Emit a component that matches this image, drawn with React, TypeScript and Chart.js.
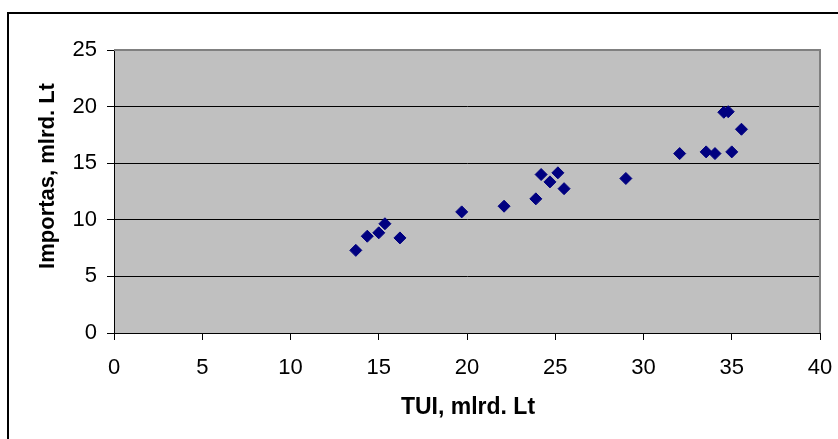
import React, { useEffect, useRef } from "react";
import { Chart, registerables } from "chart.js";

Chart.register(...registerables);

const tuiValues = [13.7, 14.35, 15.0, 15.35, 16.2, 19.7, 22.1, 23.9, 24.2, 24.7, 25.15, 25.5, 29.0, 32.05, 33.55, 34.05, 35.0, 34.55, 34.8, 35.55];
const importValues = [7.3, 8.55, 8.85, 9.65, 8.4, 10.7, 11.2, 11.85, 14.0, 13.35, 14.15, 12.75, 13.65, 15.85, 16.0, 15.85, 16.0, 19.5, 19.55, 18.0];
const xTicks = [0, 5, 10, 15, 20, 25, 30, 35, 40];
const yTicks = [0, 5, 10, 15, 20, 25];
const xTitle = "TUI, mlrd. Lt";
const yTitle = "Importas, mlrd. Lt";

const FONT = "'Liberation Sans', Arial, sans-serif";

export default function App() {
  const ref = useRef<HTMLCanvasElement | null>(null);

  useEffect(() => {
    const canvas = ref.current;
    if (!canvas) return;

    const decor = {
      id: "decor",
      beforeDraw(chart: any) {
        const { ctx, chartArea } = chart;
        ctx.save();
        ctx.fillStyle = "#ffffff";
        ctx.fillRect(0, 0, chart.width, chart.height);
        ctx.strokeStyle = "#000000";
        ctx.lineWidth = 2;
        ctx.beginPath();
        ctx.moveTo(8, 445);
        ctx.lineTo(8, 13);
        ctx.lineTo(845, 13);
        ctx.stroke();
        ctx.fillStyle = "#c0c0c0";
        ctx.fillRect(chartArea.left, chartArea.top, chartArea.right - chartArea.left, chartArea.bottom - chartArea.top);
        ctx.restore();
      },
      beforeDatasetsDraw(chart: any) {
        const { ctx, chartArea } = chart;
        ctx.save();
        ctx.strokeStyle = "#808080";
        ctx.lineWidth = 2;
        ctx.beginPath();
        ctx.moveTo(chartArea.left, chartArea.top);
        ctx.lineTo(chartArea.right, chartArea.top);
        ctx.lineTo(chartArea.right, chartArea.bottom);
        ctx.stroke();
        ctx.restore();
      },
      afterDraw(chart: any) {
        const { ctx } = chart;
        ctx.save();
        ctx.fillStyle = "#000000";
        ctx.textAlign = "center";
        ctx.textBaseline = "alphabetic";
        ctx.font = `bold 23px ${FONT}`;
        ctx.fillText(xTitle, 468, 414);
        ctx.font = `bold 22px ${FONT}`;
        ctx.translate(54, 176);
        ctx.rotate(-Math.PI / 2);
        ctx.fillText(yTitle, 0, 0);
        ctx.restore();
      },
    };

    const chart = new Chart(canvas, {
      type: "scatter",
      data: {
        datasets: [
          {
            data: tuiValues.map((x, i) => ({ x, y: importValues[i] })),
            pointStyle: "rectRot",
            pointRadius: 6,
            pointHoverRadius: 6,
            backgroundColor: "#000080",
            borderColor: "#000080",
            borderWidth: 1,
          },
        ],
      },
      options: {
        responsive: false,
        animation: false,
        events: [],
        layout: { padding: { left: 0, top: 50, right: 18, bottom: 0 } },
        plugins: { legend: { display: false }, tooltip: { enabled: false } },
        scales: {
          x: {
            type: "linear",
            min: 0,
            max: 40,
            afterBuildTicks(scale: any) {
              scale.ticks = xTicks.map((v) => ({ value: v }));
            },
            afterFit(scale: any) {
              scale.height = 106;
              scale.paddingLeft = 0;
              scale.paddingRight = 0;
            },
            border: { display: true, color: "#000000", width: 1 },
            grid: { drawOnChartArea: false, drawTicks: true, tickLength: 7, color: "#000000" },
            ticks: { color: "#000000", font: { family: FONT, size: 22 }, padding: 15, maxRotation: 0 },
          },
          y: {
            type: "linear",
            min: 0,
            max: 25,
            afterBuildTicks(scale: any) {
              scale.ticks = yTicks.map((v) => ({ value: v }));
            },
            afterFit(scale: any) {
              scale.width = 114;
              scale.paddingTop = 0;
              scale.paddingBottom = 0;
            },
            border: { display: true, color: "#000000", width: 1 },
            grid: {
              drawOnChartArea: true,
              drawTicks: true,
              tickLength: 7,
              color: (c: any) => (c.tick && c.tick.value === 25 ? "rgba(0,0,0,0)" : "#000000"),
              tickColor: "#000000",
            },
            ticks: { color: "#000000", font: { family: FONT, size: 22 }, padding: 10 },
          },
        },
      },
      plugins: [decor],
    });

    return () => chart.destroy();
  }, []);

  return (
    <div style={{ position: "fixed", left: 0, top: 0, width: 838, height: 439, background: "#fff" }}>
      <canvas ref={ref} width={838} height={439} style={{ display: "block" }} />
    </div>
  );
}
